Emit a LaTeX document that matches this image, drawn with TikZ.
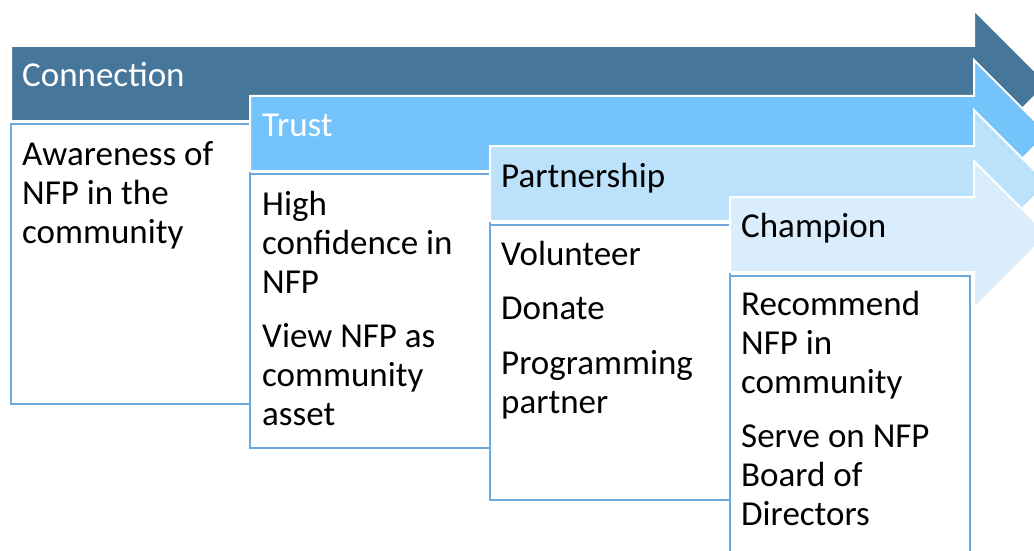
\documentclass[tikz,border=0pt]{standalone}
\usepackage{fontspec}
\setmainfont{Carlito}
\definecolor{stageA}{HTML}{46779A}
\definecolor{stageB}{HTML}{74C3FA}
\definecolor{stageC}{HTML}{BCE2FB}
\definecolor{stageD}{HTML}{D9EDFC}
\definecolor{boxline}{HTML}{6FA8DC}
\newcommand{\stagearrow}[3]{% x0, top y, colour
  \fill[#3, draw=white, line width=2pt]
    (#1,#2) -- (974,#2) -- (974,#2-36) -- (1047.5,#2+37.5)
    -- (974,#2+111) -- (974,#2+75) -- (#1,#2+75) -- cycle;}
\newcommand{\gap}{\par\vspace{15.5pt}}
\begin{document}
\begin{tikzpicture}[x=1pt,y=-1pt,
  head/.style={anchor=base west, inner sep=0pt, font=\fontsize{35}{39}\selectfont},
  detail/.style={draw=boxline, fill=white, line width=1.5pt},
  bodytext/.style={anchor=base west, inner sep=0pt, font=\fontsize{35}{39}\selectfont}]
\useasboundingbox (0,0) rectangle (1034,551);
\clip (0,0) rectangle (1034,551);

% Connection
\stagearrow{11}{46}{stageA}
\node[head, text=white] (h1) at (22,86) {Connection};
\draw[detail] (11,124) rectangle (250,404);
\node[bodytext] (b1) at (22,165) {\parbox[t]{220pt}{\raggedright
  Awareness of\\NFP in the\\community}};

% Trust
\stagearrow{250}{96}{stageB}
\node[head, text=white] (h2) at (262,136) {Trust};
\draw[detail] (250,174) rectangle (490,448);
\node[bodytext] (b2) at (262,215) {\parbox[t]{220pt}{\raggedright
  High\\confidence in\\NFP\gap View NFP as\\community\\asset}};

% Partnership
\stagearrow{490}{146}{stageC}
\node[head] (h3) at (501,187) {Partnership};
\draw[detail] (490,225) rectangle (730,500);
\node[bodytext] (b3) at (501,265) {\parbox[t]{220pt}{\raggedright
  Volunteer\gap Donate\gap Programming\\partner}};

% Champion
\stagearrow{730}{197}{stageD}
\node[head] (h4) at (741,237) {Champion};
\draw[detail] (730,276) rectangle (970,570);
\node[bodytext] (b4) at (741,315) {\parbox[t]{220pt}{\raggedright
  Recommend\\NFP in\\community\gap Serve on NFP\\Board of\\Directors}};
\end{tikzpicture}
\end{document}
